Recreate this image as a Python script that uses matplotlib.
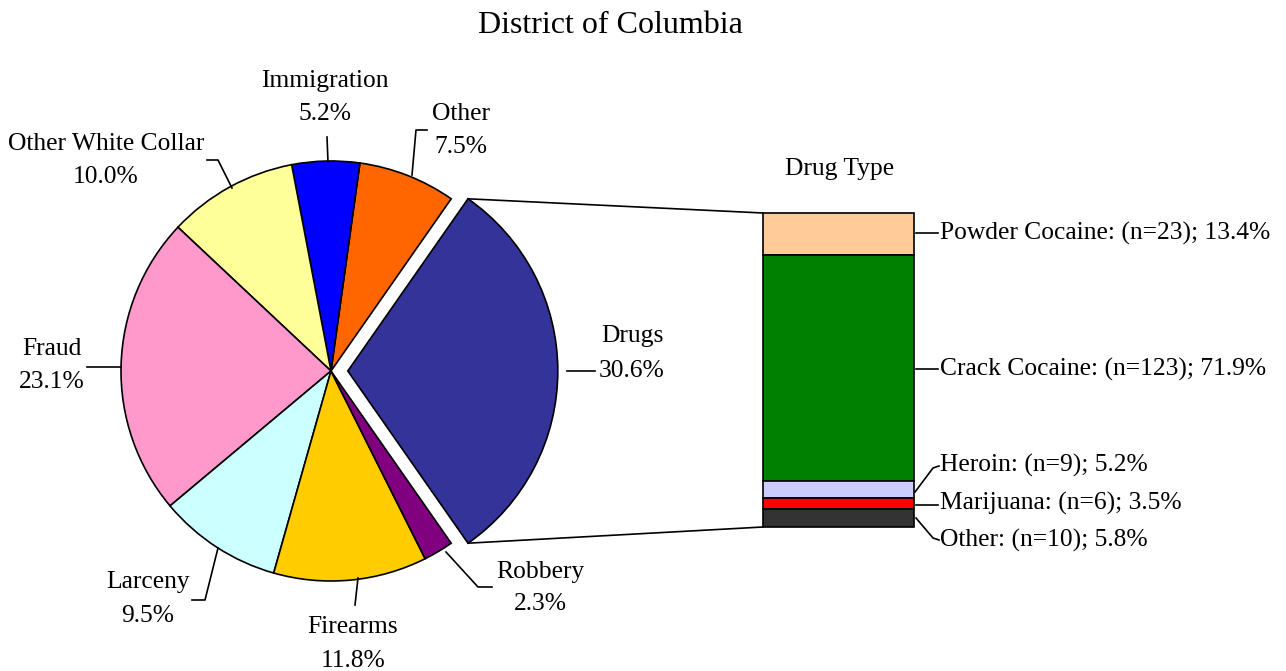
import matplotlib
matplotlib.use("Agg")
import matplotlib.pyplot as plt
import numpy as np

# ---------------- data ----------------
categories = ["Drugs", "Other", "Immigration", "Other White Collar",
              "Fraud", "Larceny", "Firearms", "Robbery"]
shares = [30.6, 7.5, 5.2, 10.0, 23.1, 9.5, 11.8, 2.3]
pie_colors = ["#333399", "#FF6600", "#0000FF", "#FFFF99",
              "#FF99CC", "#CCFFFF", "#FFCC00", "#800080"]

drug_types = ["Powder Cocaine", "Crack Cocaine", "Heroin", "Marijuana", "Other"]
drug_n = [23, 123, 9, 6, 10]
drug_pct = [13.4, 71.9, 5.2, 3.5, 5.8]
drug_colors = ["#FFCC99", "#008000", "#CCCCFF", "#FF0000", "#333333"]

title = "District of Columbia"
bar_title = "Drug Type"

# ---------------- figure ----------------
W, H = 1286, 671
fig = plt.figure(figsize=(W / 100, H / 100), dpi=100)
ax = fig.add_axes([0, 0, 1, 1])
FONT = "Liberation Serif"
FS = 18.4

R = 210
start = 360 * shares[0] / 100 / 2
wedges, _ = ax.pie(shares, colors=pie_colors, center=(331, 371), radius=R,
                   startangle=start, counterclock=False,
                   explode=[0.08 * R] + [0] * (len(shares) - 1),
                   wedgeprops=dict(edgecolor="black", linewidth=1.2))
ax.set_xlim(0, W)
ax.set_ylim(H, 0)
ax.set_aspect("equal")
ax.axis("off")

# ---------------- stacked bar ----------------
bar_left, bar_right, bar_top, bar_bot = 763, 914, 213, 527
scale = (bar_bot - bar_top) / sum(drug_pct)
heights = np.array(drug_pct) * scale
bottoms = bar_top + np.concatenate([[0], np.cumsum(heights)[:-1]])
ax.bar([(bar_left + bar_right) / 2] * len(drug_pct), heights, bottom=bottoms,
       width=bar_right - bar_left, color=drug_colors, edgecolor="black",
       linewidth=1.2, zorder=3)

# connection lines from exploded drug wedge to the bar
w = wedges[0]
cx, cy = w.center
r = w.r
for ang in (w.theta1, w.theta2):
    px = cx + r * np.cos(np.radians(ang))
    py = cy + r * np.sin(np.radians(ang))
    yb = bar_top if py < cy else bar_bot
    ax.plot([px, bar_left], [py, yb], color="black", lw=1.2, zorder=2)

# ---------------- texts ----------------
def txt(x, y, s, ha="center", fs=FS):
    ax.text(x, y, s, ha=ha, va="baseline", fontsize=fs, family=FONT, color="black")

txt(610, 33, title, fs=23)
txt(840, 175, bar_title)

# pie labels: (x center, baseline line1, baseline line2)
pie_label_pos = {
    "Immigration": (325, 87, 120),
    "Other": (461, 120, 153),
    "Other White Collar": (106, 150, 183),
    "Fraud": (52, 355, 388),
    "Drugs": (632, 342, 377),
    "Robbery": (540, 578, 610),
    "Firearms": (353, 633, 667),
    "Larceny": (148, 588, 622),
}
for cat, sh in zip(categories, shares):
    x, b1, b2 = pie_label_pos[cat]
    txt(x, b1, cat)
    txt(x, b2, f"{sh:.1f}%")

pie_leaders = [
    [(327, 137), (328, 162)],
    [(427, 130), (416, 130), (412, 175)],
    [(207, 160), (218, 160), (232, 188)],
    [(87, 367), (121, 367)],
    [(567, 371), (595, 371)],
    [(446, 552), (478, 587), (492, 587)],
    [(358, 578), (355, 605)],
    [(218, 548), (205, 600), (192, 600)],
]
for pts in pie_leaders:
    xs, ys = zip(*pts)
    ax.plot(xs, ys, color="black", lw=1.2)

# bar labels
bar_label_base = [240, 376, 472, 510, 547]
for name, n, p, b in zip(drug_types, drug_n, drug_pct, bar_label_base):
    txt(940, b, f"{name}: (n={n}); {p:.1f}%", ha="left")

bar_leaders = [
    [(916, 233), (938, 233)],
    [(916, 369), (938, 369)],
    [(915, 492), (933, 468), (939, 466)],
    [(916, 505), (938, 505)],
    [(916, 518), (933, 538), (939, 540)],
]
for pts in bar_leaders:
    xs, ys = zip(*pts)
    ax.plot(xs, ys, color="black", lw=1.2)

fig.savefig("out.png", dpi=100, facecolor="white")
